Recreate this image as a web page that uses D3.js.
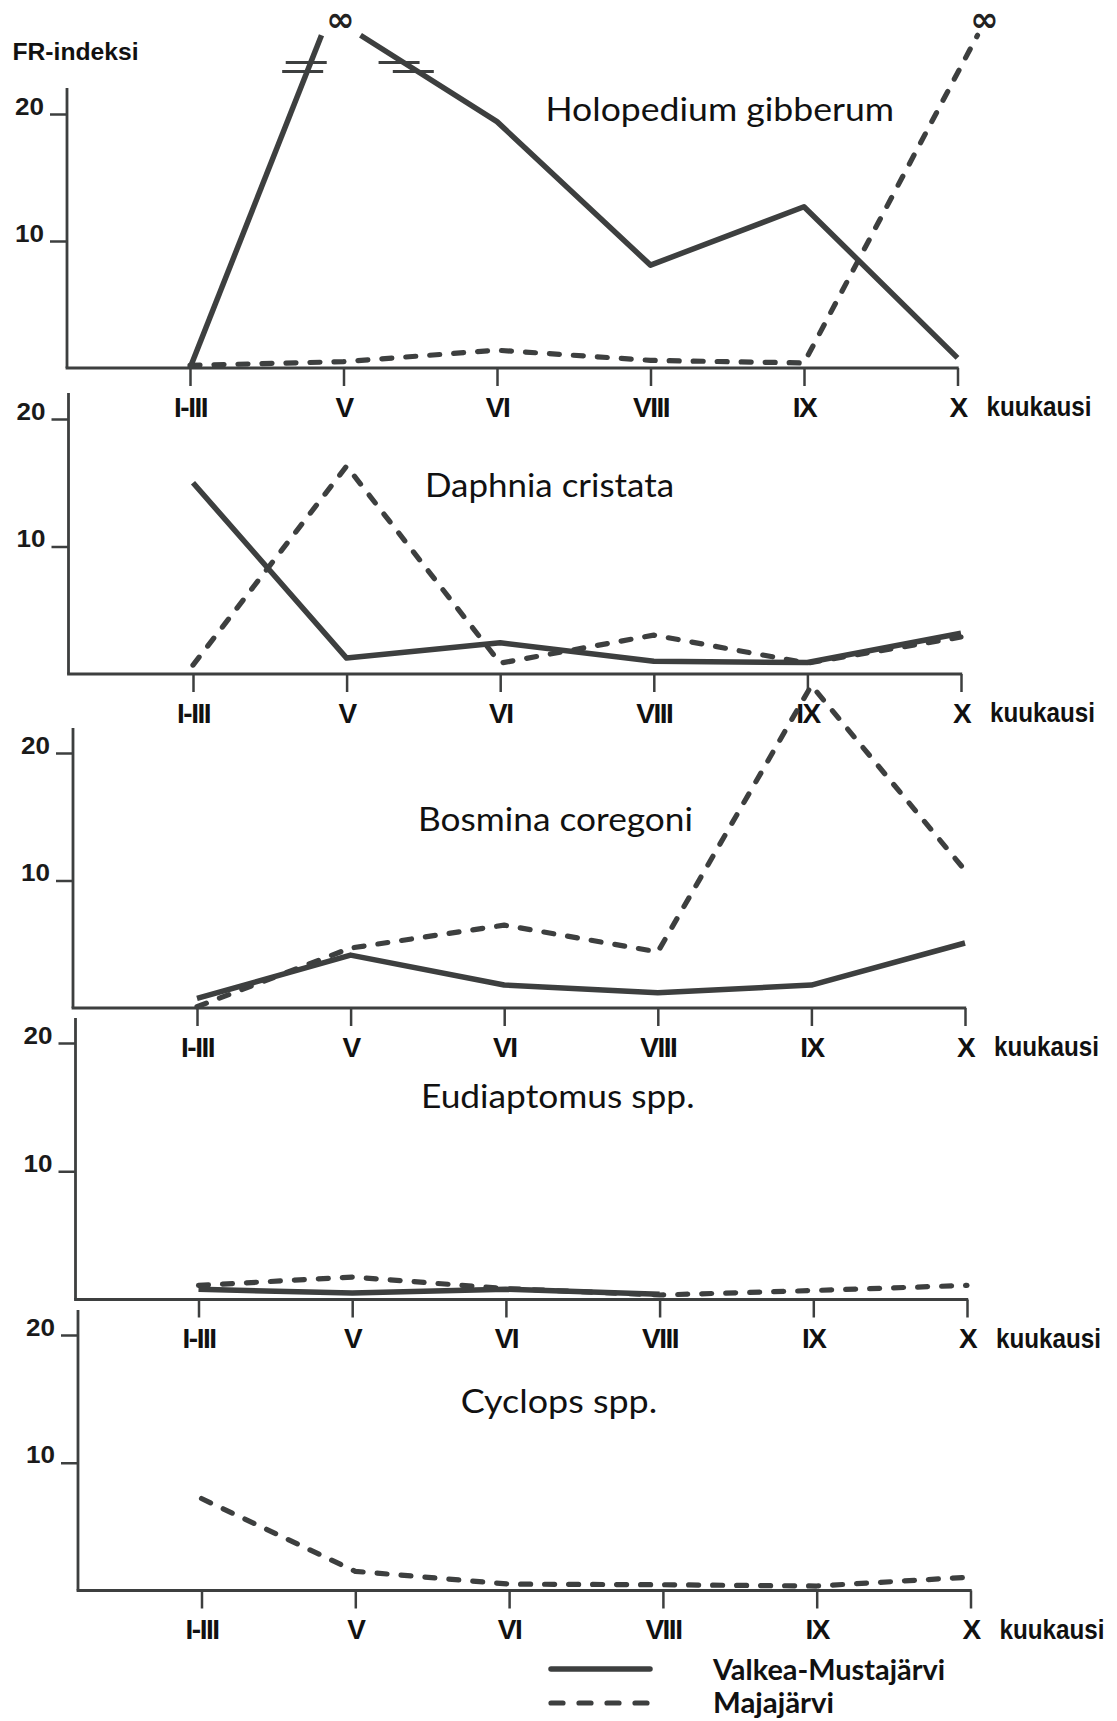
<!DOCTYPE html>
<html><head><meta charset="utf-8">
<script src="https://cdn.jsdelivr.net/npm/d3@7"></script>
<style>
html,body{margin:0;padding:0;background:#fff;}
svg{display:block;}
</style></head><body>
<svg id="chart" width="1117" height="1721"></svg>
<script>
// ---------- data ----------
const months = ["I-III", "V", "VI", "VIII", "IX", "X"];
const speciesNames = ["Holopedium gibberum", "Daphnia cristata", "Bosmina coregoni", "Eudiaptomus spp.", "Cyclops spp."];
const lakeNames = ["Valkea-Mustajärvi", "Majajärvi"];
const yTickValues = [10, 20];
const yAxisLabel = "FR-indeksi";
const xAxisLabel = "kuukausi";
const infinityLabel = "∞";

// Valkea-Mustajärvi (solid) and Majajärvi (dashed); Infinity = ∞, null = no value
const holopediumValkea  = [0, Infinity, 19.4, 8.1, 12.7, 0.8];
const holopediumMaja    = [0.2, 0.5, 1.4, 0.6, 0.4, Infinity];
const daphniaValkea     = [15.0, 1.25, 2.45, 1.0, 0.9, 3.2];
const daphniaMaja       = [0.7, 16.3, 0.85, 3.05, 0.85, 2.9];
const bosminaValkea     = [0.75, 4.15, 1.8, 1.2, 1.8, 5.1];
const bosminaMaja       = [0.1, 4.7, 6.5, 4.4, 25.3, 10.8];
const eudiaptomusValkea = [0.8, 0.5, 0.8, 0.4, null, null];
const eudiaptomusMaja   = [1.1, 1.75, 0.85, 0.35, 0.7, 1.1];
const cyclopsValkea     = [null, null, null, null, null, null];
const cyclopsMaja       = [7.2, 1.5, 0.5, 0.45, 0.35, 1.05];

// ---------- layout / style ----------
const INK = "#3d3f3f";
const infCap = 26.2;          // height where a line to ∞ is cut
const breakValue = 23.7;      // height of the "=" break marks

const panels = [
  {valkea: holopediumValkea, maja: holopediumMaja, axisX: 67, xFirst: 190, xLast: 957.5, base: 368, y20: 114, top: 88,
   titleX: 545.5, titleBase: 121, titleW: 348.5,
   inf: {valkea: {inDx: -22, outDx: 17, symDx: -3, breaks: true}, maja: {inDx: 20, outDx: 0, symDx: 27}}},
  {valkea: daphniaValkea, maja: daphniaMaja, axisX: 68.5, xFirst: 193, xLast: 961, base: 674, y20: 419, top: 393,
   titleX: 425, titleBase: 497, titleW: 249},
  {valkea: bosminaValkea, maja: bosminaMaja, axisX: 73, xFirst: 197, xLast: 965, base: 1008, y20: 753, top: 728,
   titleX: 418, titleBase: 831, titleW: 275},
  {valkea: eudiaptomusValkea, maja: eudiaptomusMaja, axisX: 75.5, xFirst: 198.5, xLast: 967, base: 1299.5, y20: 1043, top: 1018,
   titleX: 421, titleBase: 1108, titleW: 273.5},
  {valkea: cyclopsValkea, maja: cyclopsMaja, axisX: 78, xFirst: 201.5, xLast: 970.5, base: 1590.5, y20: 1335, top: 1310,
   titleX: 460.7, titleBase: 1413, titleW: 196.5},
];

const svg = d3.select("#chart");
const line = d3.line();

const styles = {
  valkea: {width: 5.5, dash: null},
  maja:   {width: 5.2, dash: "10,14"}
};

// y axis label
svg.append("text").attr("x", 12.5).attr("y", 60)
  .attr("font-family", "Liberation Sans, Arial, sans-serif").attr("font-weight", "bold")
  .attr("font-size", 24).attr("fill", "#111")
  .attr("textLength", 126).attr("lengthAdjust", "spacingAndGlyphs")
  .text(yAxisLabel);

panels.forEach((p, pi) => {
  const g = svg.append("g");
  const x = d3.scalePoint().domain(months).range([p.xFirst, p.xLast]);
  const y = d3.scaleLinear().domain([0, 20]).range([p.base, p.y20]);

  // y axis
  const ya = g.append("g").attr("transform", `translate(${p.axisX},0)`)
    .call(d3.axisLeft(y).tickValues(yTickValues).tickSize(17).tickPadding(6).tickFormat(d3.format("d")));
  ya.select(".domain").remove();
  ya.selectAll(".tick line").attr("stroke", INK).attr("stroke-width", 2.5);
  ya.selectAll(".tick text").attr("dy", "0").attr("fill", "#1a1a1a")
    .attr("font-family", "Liberation Sans, Arial, sans-serif").attr("font-weight", "bold")
    .attr("font-size", 23).attr("textLength", 29).attr("lengthAdjust", "spacingAndGlyphs");
  g.append("line").attr("x1", p.axisX).attr("x2", p.axisX).attr("y1", p.top).attr("y2", p.base)
    .attr("stroke", INK).attr("stroke-width", 2.8);

  // x axis
  const xa = g.append("g").attr("transform", `translate(0,${p.base})`)
    .call(d3.axisBottom(x).tickSize(18).tickPadding(11));
  xa.select(".domain").remove();
  xa.selectAll(".tick line").attr("stroke", INK).attr("stroke-width", 2.5);
  xa.selectAll(".tick text").attr("fill", "#111")
    .attr("font-family", "Liberation Sans, Arial, sans-serif").attr("font-weight", "bold")
    .attr("font-size", 28).attr("letter-spacing", "-1.5px");
  g.append("line").attr("x1", p.axisX - 1.4).attr("x2", p.xLast + 1.2).attr("y1", p.base).attr("y2", p.base)
    .attr("stroke", INK).attr("stroke-width", 2.8);
  g.append("text").attr("x", p.xLast + 29).attr("y", p.base + 48)
    .attr("font-family", "Liberation Sans, Arial, sans-serif").attr("font-weight", "bold")
    .attr("font-size", 27).attr("fill", "#111")
    .attr("textLength", 105).attr("lengthAdjust", "spacingAndGlyphs")
    .text(xAxisLabel);

  // title
  g.append("text").attr("x", p.titleX).attr("y", p.titleBase)
    .attr("font-family", "Lato, 'Open Sans', sans-serif").attr("font-size", 33).attr("fill", "#111")
    .attr("textLength", p.titleW).attr("lengthAdjust", "spacingAndGlyphs")
    .text(speciesNames[pi]);

  // series
  ["maja", "valkea"].forEach(key => {
    const vals = p[key];
    const infCfg = (p.inf && p.inf[key]) || {inDx: 0, outDx: 0, symDx: 0};
    const segs = [];
    const syms = [];
    let cur = [];
    vals.forEach((v, i) => {
      const xi = x(months[i]);
      if (v == null) { if (cur.length > 1) segs.push(cur); cur = []; return; }
      if (isFinite(v)) { cur.push([xi, y(v)]); return; }
      // infinite value
      if (cur.length) { cur.push([xi + infCfg.inDx, y(infCap)]); segs.push(cur); }
      cur = [];
      if (i < vals.length - 1 && vals[i + 1] != null) cur.push([xi + infCfg.outDx, y(infCap)]);
      syms.push(xi + infCfg.symDx);
    });
    if (cur.length > 1) segs.push(cur);

    const st = styles[key];
    segs.forEach(s => {
      g.append("path").attr("d", line(s)).attr("fill", "none")
        .attr("stroke", INK).attr("stroke-width", st.width)
        .attr("stroke-linecap", st.dash ? "round" : "butt")
        .attr("stroke-linejoin", "round")
        .attr("stroke-dasharray", st.dash);
    });

    syms.forEach(sx => {
      g.append("text").attr("x", sx).attr("y", y(infCap) - 4).attr("text-anchor", "middle")
        .attr("font-family", "DejaVu Sans, sans-serif").attr("font-weight", "bold")
        .attr("font-size", 34).attr("fill", "#222").text(infinityLabel);
    });

    // break marks on segments adjacent to infinity
    if (infCfg.breaks) {
      const yb = y(breakValue);
      segs.forEach(s => {
        for (let k = 0; k < s.length - 1; k++) {
          const [x1, y1] = s[k], [x2, y2] = s[k + 1];
          [-4.5, 4.5].forEach(off => {
            const yy = yb + off;
            if ((yy - y1) * (yy - y2) <= 0 && y1 !== y2) {
              const xx = x1 + (x2 - x1) * (yy - y1) / (y2 - y1);
              g.append("line").attr("x1", xx - 25).attr("x2", xx + 16).attr("y1", yy).attr("y2", yy)
                .attr("stroke", INK).attr("stroke-width", 3);
            }
          });
        }
      });
    }
  });
});

// legend
const legend = svg.append("g");
const legendRows = [{key: "valkea", y: 1669, base: 1680}, {key: "maja", y: 1703, base: 1713}];
legendRows.forEach((r, i) => {
  const st = styles[r.key];
  legend.append("line").attr("x1", 551).attr("x2", st.dash ? 647 : 650).attr("y1", r.y).attr("y2", r.y)
    .attr("stroke", INK).attr("stroke-width", st.width)
    .attr("stroke-linecap", "round")
    .attr("stroke-dasharray", st.dash ? "12,16" : null);
  legend.append("text").attr("x", 713).attr("y", r.base)
    .attr("font-family", "Lato, 'Open Sans', sans-serif").attr("font-weight", "bold")
    .attr("font-size", 28).attr("fill", "#111")
    .attr("textLength", i === 0 ? 232 : 121).attr("lengthAdjust", "spacingAndGlyphs")
    .text(lakeNames[i]);
});
</script>
</body></html>
